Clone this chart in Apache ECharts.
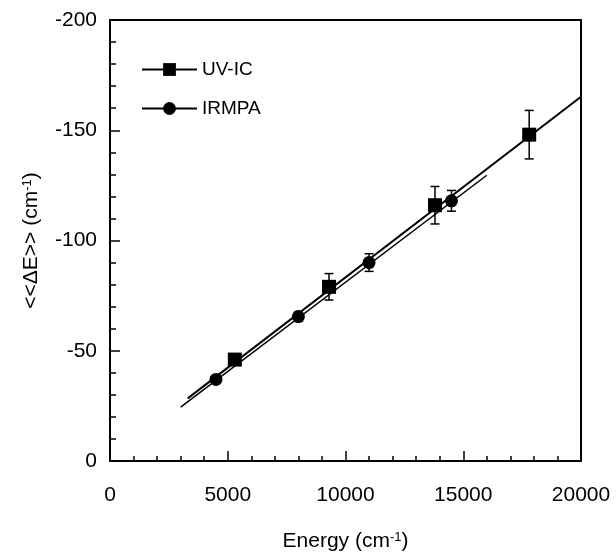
<!DOCTYPE html>
<html>
<head>
<meta charset="utf-8">
<script src="https://cdn.jsdelivr.net/npm/echarts@6/dist/echarts.min.js"></script>
<style>html,body{margin:0;padding:0;background:#fff;}#c{width:616px;height:557px;}</style>
</head>
<body>
<div id="c"></div>
<script>
// Data
var uvEnergy = [5300, 9300, 13800, 17800];
var uvValue = [-46, -79, -116, -148];
var uvErr = [2, 6, 8.5, 11];
var irEnergy = [4500, 8000, 11000, 14500];
var irValue = [-37, -65.5, -90, -118];
var irErr = [1.5, 2, 4, 4.7];
var uvFitX = [3300, 20000];
var uvFitY = [-28.4, -165.2];
var irFitX = [3000, 16000];
var irFitY = [-24.4, -129.6];
var xTicks = [0, 5000, 10000, 15000, 20000];
var yTicks = [0, -50, -100, -150, -200];

function pairs(xs, ys) { return xs.map(function (x, i) { return [x, ys[i]]; }); }
function errData(xs, ys, es) { return xs.map(function (x, i) { return [x, ys[i] - es[i], ys[i] + es[i]]; }); }

var FONT = 'Liberation Sans, Arial, Helvetica, sans-serif';
var chart = echarts.init(document.getElementById('c'), null, { renderer: 'canvas' });

function errSeries(name, data) {
  return {
    name: name, type: 'custom', z: 3,
    data: data,
    encode: { x: 0, y: [1, 2] },
    renderItem: function (params, api) {
      var x = api.value(0);
      var p1 = api.coord([x, api.value(1)]);
      var p2 = api.coord([x, api.value(2)]);
      var hw = 4.5;
      var st = { stroke: '#000', lineWidth: 1.5 };
      return {
        type: 'group',
        children: [
          { type: 'line', shape: { x1: p1[0], y1: p1[1], x2: p2[0], y2: p2[1] }, style: st },
          { type: 'line', shape: { x1: p1[0] - hw, y1: p1[1], x2: p1[0] + hw, y2: p1[1] }, style: st },
          { type: 'line', shape: { x1: p2[0] - hw, y1: p2[1], x2: p2[0] + hw, y2: p2[1] }, style: st }
        ]
      };
    }
  };
}

var richTitle = {
  b: { fontSize: 21, fontFamily: FONT, color: '#000' },
  s: { fontSize: 13, fontFamily: FONT, color: '#000', verticalAlign: 'top', padding: [0, 0, 7, 0] }
};

chart.setOption({
  animation: false,
  backgroundColor: '#fff',
  textStyle: { fontFamily: FONT, color: '#000' },
  grid: { left: 110, right: 35, top: 20, bottom: 94, show: true, borderColor: '#000', borderWidth: 2, backgroundColor: 'transparent' },
  legend: {
    data: ['UV-IC', 'IRMPA'],
    orient: 'vertical',
    left: 136, top: 55,
    itemWidth: 55, itemHeight: 16, itemGap: 20,
    textStyle: { fontFamily: FONT, fontSize: 19, color: '#000' },
    selectedMode: false
  },
  xAxis: {
    type: 'value', min: 0, max: 20000, interval: 5000,
    name: '{b|Energy (cm}{s|-1}{b|)}', nameLocation: 'middle', nameGap: 70,
    nameTextStyle: { rich: richTitle },
    axisLine: { lineStyle: { color: '#000', width: 2 } },
    axisTick: { inside: true, length: 10, lineStyle: { color: '#000', width: 1.5 } },
    minorTick: { show: true, splitNumber: 5, length: 5, lineStyle: { color: '#000', width: 1.5 } },
    axisLabel: { fontSize: 21, color: '#000', margin: 24, fontFamily: FONT,
      formatter: function (v) { return xTicks.indexOf(v) >= 0 ? String(v) : ''; } },
    splitLine: { show: false }
  },
  yAxis: {
    type: 'value', min: -200, max: 0, interval: 50, inverse: true,
    name: '{b|<<ΔE>> (cm}{s|-1}{b|)}', nameLocation: 'middle', nameGap: 68, nameRotate: 90,
    nameTextStyle: { rich: richTitle },
    axisLine: { lineStyle: { color: '#000', width: 2 } },
    axisTick: { inside: true, length: 10, lineStyle: { color: '#000', width: 1.5 } },
    minorTick: { show: true, splitNumber: 5, length: 6, lineStyle: { color: '#000', width: 1.5 } },
    axisLabel: { fontSize: 21, color: '#000', margin: 13, fontFamily: FONT,
      formatter: function (v) { return yTicks.indexOf(v) >= 0 ? String(v) : ''; } },
    splitLine: { show: false }
  },
  series: [
    { name: 'UV-IC', type: 'line', data: pairs(uvFitX, uvFitY), symbol: 'rect', showSymbol: false,
      lineStyle: { color: '#000', width: 2 }, itemStyle: { color: '#000' }, z: 2, silent: true },
    { name: 'IRMPA', type: 'line', data: pairs(irFitX, irFitY), symbol: 'circle', showSymbol: false,
      lineStyle: { color: '#000', width: 1.5 }, itemStyle: { color: '#000' }, z: 2, silent: true },
    errSeries('uvErr', errData(uvEnergy, uvValue, uvErr)),
    errSeries('irErr', errData(irEnergy, irValue, irErr)),
    { name: 'uvPts', type: 'scatter', data: pairs(uvEnergy, uvValue), symbol: 'rect', symbolSize: 14,
      itemStyle: { color: '#000', opacity: 1 }, z: 4 },
    { name: 'irPts', type: 'scatter', data: pairs(irEnergy, irValue), symbol: 'circle', symbolSize: 13,
      itemStyle: { color: '#000', opacity: 1 }, z: 4 }
  ]
});
</script>
</body>
</html>
